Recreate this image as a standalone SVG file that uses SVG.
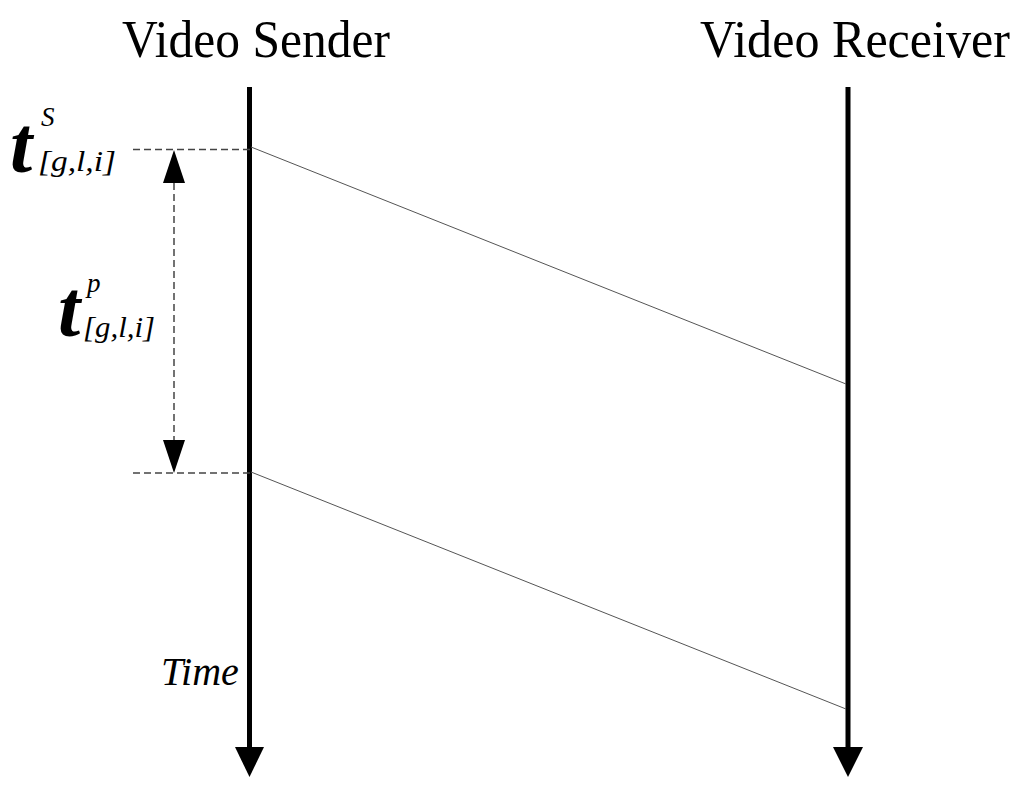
<svg xmlns="http://www.w3.org/2000/svg" width="1024" height="791" viewBox="0 0 1024 791">
<style>
text{font-family:'Liberation Serif','Times New Roman',Times,serif;fill:#000}
.title{font-size:52px}
.tbig{font-size:80px;font-weight:bold;font-style:italic}
.sup{font-size:27px;font-style:italic}
.sub{font-size:29px;font-style:italic}
.time{font-size:40px;font-style:italic}
.life{stroke:#000;stroke-width:5;fill:none}
.dash{stroke:#444;stroke-width:1.5;stroke-dasharray:7 4;fill:none}
.msg{stroke:#555;stroke-width:1;fill:none}
</style>
<rect width="1024" height="791" fill="#fff"/>
<g id="sender">
<text class="title" x="122" y="57" textLength="268" lengthAdjust="spacingAndGlyphs">Video Sender</text>
<line class="life" x1="249.5" y1="87" x2="249.5" y2="752"/>
<path d="M235,747 L264,747 L249.5,777 Z" fill="#000"/>
<text class="time" x="161" y="685">Time</text>
</g>
<g id="receiver">
<text class="title" x="700" y="57" textLength="310" lengthAdjust="spacingAndGlyphs">Video Receiver</text>
<line class="life" x1="848" y1="87" x2="848" y2="752"/>
<path d="M833,747 L863,747 L848,777 Z" fill="#000"/>
</g>
<g id="label-ts">
<text class="tbig" x="10" y="172">t</text>
<text class="sup" x="41" y="126">S</text>
<text class="sub" x="38" y="171" textLength="78" lengthAdjust="spacingAndGlyphs">[g,l,i]</text>
</g>
<g id="label-tp">
<text class="tbig" x="58" y="336">t</text>
<text class="sup" x="87" y="292">p</text>
<text class="sub" x="83" y="337" textLength="72" lengthAdjust="spacingAndGlyphs">[g,l,i]</text>
</g>
<g id="connectors">
<line class="dash" x1="133" y1="149.5" x2="250" y2="149.5"/>
<line class="dash" x1="133" y1="473" x2="250" y2="473"/>
<line class="dash" x1="174" y1="183" x2="174" y2="440"/>
<path d="M163,183 L185,183 L174,150 Z" fill="#000"/>
<path d="M163,440 L185,440 L174,473 Z" fill="#000"/>
<line class="msg" x1="251" y1="147" x2="846" y2="384"/>
<line class="msg" x1="251" y1="472" x2="846" y2="709"/>
</g>
</svg>
